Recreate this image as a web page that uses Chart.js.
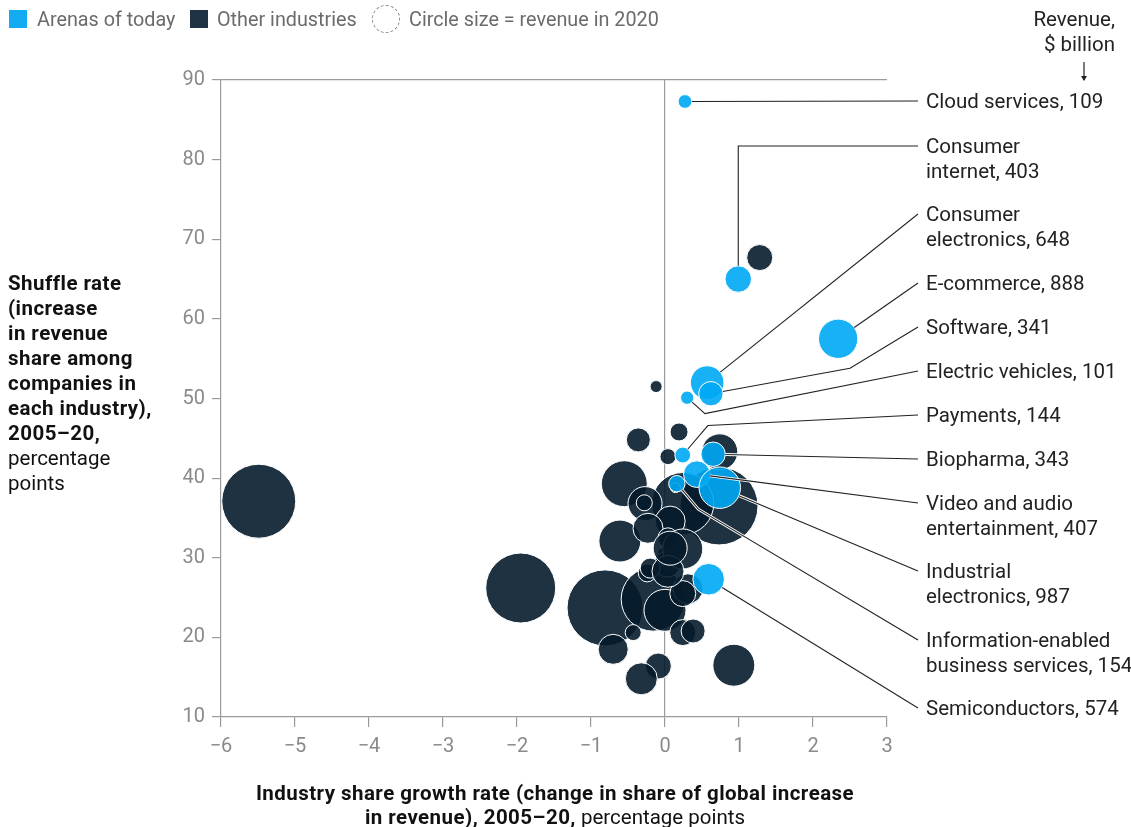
<!DOCTYPE html>
<html>
<head>
<meta charset="utf-8">
<script src="https://cdn.jsdelivr.net/npm/chart.js@4.4.1/dist/chart.umd.min.js"></script>
<style>
  body { margin: 0; background: #fff; font-family: Roboto, "Liberation Sans", sans-serif; }
  #wrap { position: relative; width: 1131px; height: 827px; overflow: hidden; }
  #c { position: absolute; left: 0; top: 0; }
  .t { position: absolute; white-space: nowrap; font-size: 20.5px; line-height: 25px; }
  .leg { color: #6b6b6b; top: 7px; font-size: 19.8px; }
  .sq { position: absolute; top: 10px; width: 18px; height: 18px; }
  .ytitle { left: 8px; top: 271px; color: #111; }
  .xtitle { left: 155px; width: 800px; top: 781px; text-align: center; color: #111; line-height: 24px; }
  b { font-weight: 700; letter-spacing: 0.45px; }
</style>
</head>
<body>
<div id="wrap">
  <canvas id="c" width="1131" height="827"></canvas>

  <div class="sq" style="left:9px;background:#13abf2"></div>
  <div class="t leg" style="left:37px">Arenas of today</div>
  <div class="sq" style="left:190px;background:#1f3344"></div>
  <div class="t leg" style="left:217px">Other industries</div>
  <div style="position:absolute;left:372px;top:5px;width:26px;height:26px;border:1px dashed #8a8a8a;border-radius:50%"></div>
  <div class="t leg" style="left:409px">Circle size = revenue in 2020</div>

  <div class="t" style="right:16px;top:7px;text-align:right;color:#222">Revenue,<br>$ billion</div>
  <svg style="position:absolute;left:1078px;top:60px" width="12" height="24">
    <line x1="6" y1="2" x2="6" y2="20" stroke="#222" stroke-width="1.2"/>
    <path d="M3 16 L6 21 L9 16 Z" fill="#222"/>
  </svg>

  <div class="t ytitle"><b>Shuffle rate<br>(increase<br>in revenue<br>share among<br>companies in<br>each industry),<br>2005–20,</b><br>percentage<br>points</div>
  <div class="t xtitle"><b>Industry share growth rate (change in share of global increase<br>in revenue), 2005–20,</b> percentage points</div>
</div>

<script>
// Arenas of today
var arenaNames = ['Cloud services', 'Consumer\ninternet', 'Consumer\nelectronics', 'E-commerce', 'Software',
  'Electric vehicles', 'Payments', 'Biopharma', 'Video and audio\nentertainment', 'Industrial\nelectronics',
  'Information-enabled\nbusiness services', 'Semiconductors'];
var arenaX = [0.27, 0.99, 0.57, 2.34, 0.62, 0.30, 0.24, 0.65, 0.43, 0.74, 0.16, 0.59];
var arenaY = [87.3, 65.0, 52.0, 57.5, 50.6, 50.1, 42.9, 43.0, 40.5, 38.8, 39.3, 27.3];
var arenaRevenue = [109, 403, 648, 888, 341, 101, 144, 343, 407, 987, 154, 574];

// Other industries (estimated from the circles)
var otherX = [-5.49, -1.95, -0.81, 0.73, 0.24, -0.55, -0.61, -0.16, -0.12, -0.36, 0.19, 0.04, 0.74, 1.28,
  -0.27, -0.28, 0.07, -0.23, 0.04, -0.03, 0.03, 0.24, -0.24, 0.0, 0.31, 0.24, -0.43, -0.70, 0.24, 0.38,
  -0.09, -0.32, 0.93, 0.14, -0.20, 0.04, 0.07];
var otherY = [37.1, 26.2, 23.7, 36.5, 36.8, 39.3, 32.1, 24.8, 51.5, 44.8, 45.8, 42.7, 43.3, 67.7,
  36.8, 36.9, 34.6, 33.7, 32.5, 30.6, 29.2, 31.1, 28.1, 23.4, 26.1, 25.5, 20.6, 18.5, 20.6, 20.8,
  16.4, 14.8, 16.5, 38.8, 28.7, 28.3, 31.2];
var otherRevenue = [3140, 2810, 3320, 3490, 2210, 1210, 1010, 2350, 83, 330, 186, 147, 744, 388,
  663, 147, 517, 517, 230, 57, 388, 918, 186, 1010, 517, 388, 147, 517, 388, 331,
  388, 588, 1010, 57, 230, 588, 663];

// Label placement of the callouts (first-line centre, pixels)
var labelY = [101, 146, 214, 283, 327, 371, 415, 459, 503, 571, 640, 708];
// Bends of the leader lines, in data units ('v' = straight up, then across)
var elbows = [null, 'v', null, null, [2.50, 53.8], [0.54, 48.1], [0.58, 46.6], null, null, null, [0.45, 36.1], null];

var SIZE = 0.66; // px per sqrt($bn)

function bubbles(xs, ys, rev) {
  return xs.map(function (x, i) {
    return { x: x, y: ys[i], r: SIZE * Math.sqrt(rev[i]) };
  });
}

var leaders = {
  id: 'leaders',
  afterDraw: function (chart) {
    var ctx = chart.ctx;
    var meta = chart.getDatasetMeta(0);
    var sx = chart.scales.x, sy = chart.scales.y;
    var endX = 918, textX = 926;

    var paths = arenaNames.map(function (n, i) {
      var el = meta.data[i];
      var cx = el.x, cy = el.y, r = el.options.radius;
      var ly = labelY[i];
      var pts = [];
      var first;
      if (elbows[i] === 'v') {
        pts.push([cx, cy - r], [cx, ly], [endX, ly]);
        return pts;
      }
      if (elbows[i]) first = [sx.getPixelForValue(elbows[i][0]), sy.getPixelForValue(elbows[i][1])];
      else first = [endX, ly];
      var dx = first[0] - cx, dy = first[1] - cy, d = Math.sqrt(dx * dx + dy * dy);
      pts.push([cx + dx / d * r, cy + dy / d * r]);
      pts.push(first);
      if (elbows[i]) pts.push([endX, ly]);
      return pts;
    });

    ctx.save();
    // white halo first, then the dark line
    [['#ffffff', 3], ['#222222', 1.1]].forEach(function (s) {
      ctx.strokeStyle = s[0];
      ctx.lineWidth = s[1];
      paths.forEach(function (p) {
        ctx.beginPath();
        ctx.moveTo(p[0][0], p[0][1]);
        for (var k = 1; k < p.length; k++) ctx.lineTo(p[k][0], p[k][1]);
        ctx.stroke();
      });
    });

    ctx.fillStyle = '#222';
    ctx.font = '20.5px Roboto, "Liberation Sans", sans-serif';
    ctx.textBaseline = 'middle';
    ctx.textAlign = 'left';
    arenaNames.forEach(function (n, i) {
      var lines = (n + ', ' + arenaRevenue[i]).split('\n');
      lines.forEach(function (l, j) {
        ctx.fillText(l, textX, labelY[i] + 2 + j * 25);
      });
    });
    ctx.restore();
  }
};

var axisGrey = '#9b9b9b';
var tickFont = { family: 'Roboto, "Liberation Sans", sans-serif', size: 20 };

new Chart(document.getElementById('c'), {
  type: 'bubble',
  data: {
    datasets: [
      {
        label: 'Arenas of today',
        data: bubbles(arenaX, arenaY, arenaRevenue),
        backgroundColor: 'rgba(0,169,244,0.9)',
        borderColor: '#ffffff',
        borderWidth: 1
      },
      {
        label: 'Other industries',
        data: bubbles(otherX, otherY, otherRevenue),
        backgroundColor: 'rgba(5,28,44,0.9)',
        borderColor: '#ffffff',
        borderWidth: 1
      }
    ]
  },
  options: {
    responsive: false,
    animation: false,
    events: [],
    layout: { padding: { left: 160, right: 244, top: 80, bottom: 70 } },
    plugins: { legend: { display: false }, tooltip: { enabled: false } },
    scales: {
      x: {
        type: 'linear', min: -6, max: 3, z: 1,
        ticks: {
          stepSize: 1, color: '#8a8a8a', font: tickFont, padding: 8,
          callback: function (v) { return String(v).replace('-', '\u2212'); }
        },
        grid: {
          color: function (c) { return c.tick && c.tick.value === 0 ? axisGrey : 'rgba(0,0,0,0)'; },
          tickColor: axisGrey, tickLength: 10, lineWidth: 1.2
        },
        border: { color: axisGrey, width: 1.2 },
        afterFit: function (s) { s.height = 40; }
      },
      y: {
        type: 'linear', min: 10, max: 90,
        ticks: { stepSize: 10, color: '#8a8a8a', font: tickFont, padding: 7 },
        grid: {
          color: function (c) { return c.tick && c.tick.value === 90 ? axisGrey : 'rgba(0,0,0,0)'; },
          tickColor: axisGrey, tickLength: 9, lineWidth: 1.2
        },
        border: { color: axisGrey, width: 1.2 },
        afterFit: function (s) { s.width = 61; }
      }
    }
  },
  plugins: [leaders]
});
</script>
</body>
</html>
